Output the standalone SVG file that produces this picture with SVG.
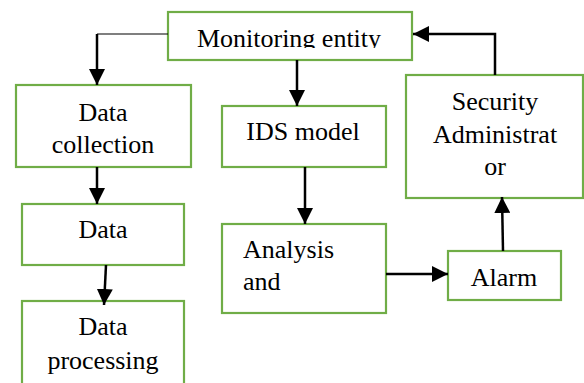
<svg xmlns="http://www.w3.org/2000/svg" width="584" height="383" viewBox="0 0 584 383">
<style>
.box{fill:#fff;stroke:#70AD47;stroke-width:2.2}
.t{font-family:'Liberation Serif','Times New Roman',Times,'DejaVu Serif',serif;font-size:26px;fill:#000}
.c{text-anchor:middle}
.ln{stroke:#000;stroke-width:2.5;fill:none}
.thin{stroke:#000;stroke-width:1.2;fill:none}
</style>
<defs>
<marker id="ah" markerUnits="userSpaceOnUse" markerWidth="16" markerHeight="16" refX="16" refY="8" orient="auto" viewBox="0 0 16 16">
<path d="M0,0 L16,8 L0,16 z" fill="#000"/>
</marker>
<clipPath id="mclip"><rect x="168" y="12" width="244" height="36"/></clipPath>
</defs>
<rect width="584" height="383" fill="#fff"/>
<g id="monitoring">
<rect class="box" x="168" y="12" width="244" height="48"/>
<text class="t c" x="289" y="47" clip-path="url(#mclip)">Monitoring entity</text>
</g>
<g id="datacollection">
<rect class="box" x="16" y="85" width="175" height="82"/>
<text class="t c" x="103" y="121">Data</text>
<text class="t c" x="103" y="153">collection</text>
</g>
<g id="idsmodel">
<rect class="box" x="222" y="106" width="164" height="61"/>
<text class="t c" x="303" y="140">IDS model</text>
</g>
<g id="security">
<rect class="box" x="406" y="75" width="177" height="123"/>
<text class="t c" x="495" y="110">Security</text>
<text class="t c" x="495" y="143">Administrat</text>
<text class="t c" x="495" y="175">or</text>
</g>
<g id="data">
<rect class="box" x="22" y="204" width="162" height="61"/>
<text class="t c" x="103" y="238">Data</text>
</g>
<g id="dataprocessing">
<rect class="box" x="22" y="301" width="162" height="90"/>
<text class="t c" x="103" y="335">Data</text>
<text class="t c" x="103" y="369">processing</text>
</g>
<g id="analysis">
<rect class="box" x="222" y="224" width="164" height="89"/>
<text class="t" x="243" y="258">Analysis</text>
<text class="t" x="243" y="290">and</text>
</g>
<g id="alarm">
<rect class="box" x="448" y="251" width="113" height="49"/>
<text class="t c" x="504" y="286">Alarm</text>
</g>
<g id="connectors">
<line class="thin" x1="168" y1="34" x2="97" y2="34"/>
<line class="ln" x1="97" y1="34" x2="97" y2="85" marker-end="url(#ah)"/>
<line class="ln" x1="297" y1="60" x2="297" y2="106" marker-end="url(#ah)"/>
<line class="ln" x1="305" y1="167" x2="305" y2="224" marker-end="url(#ah)"/>
<line class="ln" x1="97" y1="167" x2="97" y2="204" marker-end="url(#ah)"/>
<line class="ln" x1="106" y1="265" x2="104" y2="305" marker-end="url(#ah)"/>
<line class="ln" x1="386" y1="274" x2="448" y2="274" marker-end="url(#ah)"/>
<line class="ln" x1="503" y1="251" x2="502" y2="197" marker-end="url(#ah)"/>
<polyline class="ln" points="495,75 495,34 413,34" marker-end="url(#ah)"/>
</g>
</svg>
